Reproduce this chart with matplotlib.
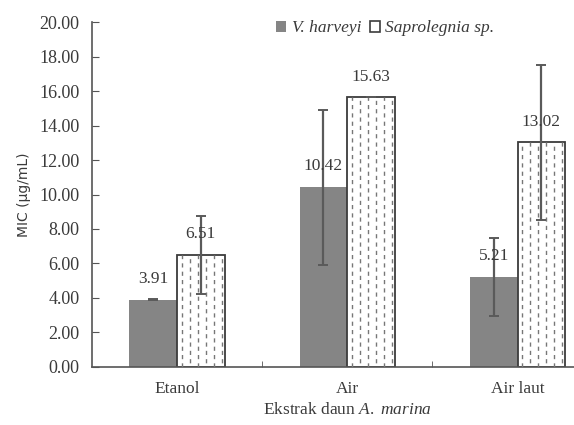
import numpy as np
import matplotlib.pyplot as plt
from matplotlib.patches import Patch

# MIC data for the three A. marina leaf extracts
categories = ['Etanol', 'Air', 'Air laut']
vharveyi = [3.91, 10.42, 5.21]
vharveyi_err = [0.05, 4.50, 2.25]
saprolegnia = [6.51, 15.63, 13.02]
saprolegnia_err = [2.25, 0.0, 4.50]
yticks = [0, 2, 4, 6, 8, 10, 12, 14, 16, 18, 20]

plt.rcParams['font.family'] = ['Liberation Serif', 'DejaVu Serif']
plt.rcParams['mathtext.fontset'] = 'custom'
plt.rcParams['mathtext.rm'] = 'Liberation Serif'
plt.rcParams['mathtext.it'] = 'Liberation Serif:italic'
txt = '#3a3a3a'

fig = plt.figure(figsize=(5.74, 4.25), dpi=100)
ax = fig.add_axes([0.160, 0.1365, 0.890, 0.8117])

x = np.arange(len(categories))
w = 0.28
err_kw = dict(ecolor='#5a5a5a', elinewidth=1.6, capsize=3.5, capthick=1.4)

b1 = ax.bar(x - w / 2, vharveyi, w, color='#858585', edgecolor='none',
            yerr=vharveyi_err, error_kw=err_kw, zorder=2)
b2 = ax.bar(x + w / 2, saprolegnia, w, color='white', edgecolor='#3c3c3c',
            linewidth=1.3, zorder=2)

# dashed vertical fill pattern inside the white bars
step = 0.047
for bar in b2:
    x0 = bar.get_x()
    h = bar.get_height()
    cols = np.arange(x0 + step * 0.6, x0 + bar.get_width() - step * 0.3, step)
    for i, cx in enumerate(cols):
        ln = ax.vlines(cx, 0, h, colors='#777777', linewidth=1.0,
                       linestyles=[(3 * (i % 2), (3, 3))], zorder=3)
        ln.set_clip_path(bar)

ax.errorbar(x + w / 2, saprolegnia, yerr=saprolegnia_err, fmt='none',
            zorder=4, **err_kw)

# value labels above the bars
for bars, vals in ((b1, vharveyi), (b2, saprolegnia)):
    for bar, v in zip(bars, vals):
        ax.annotate(f'{v:.2f}', (bar.get_x() + bar.get_width() / 2, v),
                    xytext=(0, 15), textcoords='offset points',
                    ha='center', va='center', fontsize=12.5, color=txt, zorder=5)

ax.set_xlim(-0.5, 2.5)
ax.set_ylim(0, 20)
ax.set_yticks(yticks)
ax.set_yticklabels([f'{v:.2f}' for v in yticks], fontsize=13, color=txt)
ax.set_xticks(x)
ax.set_xticklabels(categories, fontsize=12.5, color=txt)
ax.set_xticks([0.5, 1.5], minor=True)
ax.tick_params(axis='x', which='major', length=0, pad=10)
ax.tick_params(axis='x', which='minor', direction='in', length=4, color='#555555')
ax.tick_params(axis='y', direction='in', length=5, color='#555555', pad=9)

for s in ('top', 'right'):
    ax.spines[s].set_visible(False)
for s in ('left', 'bottom'):
    ax.spines[s].set_color('#555555')
    ax.spines[s].set_linewidth(1.2)

ax.set_ylabel('MIC (µg/mL)', family='DejaVu Sans', fontsize=10, color=txt, labelpad=6)
ax.set_xlabel('Ekstrak daun $\\mathit{A.}$ $\\mathit{marina}$', fontsize=12.5,
              color=txt, labelpad=4)

handles = [Patch(facecolor='#858585', edgecolor='none'),
           Patch(facecolor='white', edgecolor='#3c3c3c', linewidth=1.2)]
leg = ax.legend(handles, ['V. harveyi', 'Saprolegnia sp.'], ncol=2, frameon=False,
                loc='upper left', bbox_to_anchor=(0.33, 1.05),
                handlelength=0.6, handleheight=0.6, handletextpad=0.3,
                columnspacing=0.5, prop={'style': 'italic', 'size': 12.5})
for t in leg.get_texts():
    t.set_color(txt)

fig.savefig('out.png', dpi=100)
